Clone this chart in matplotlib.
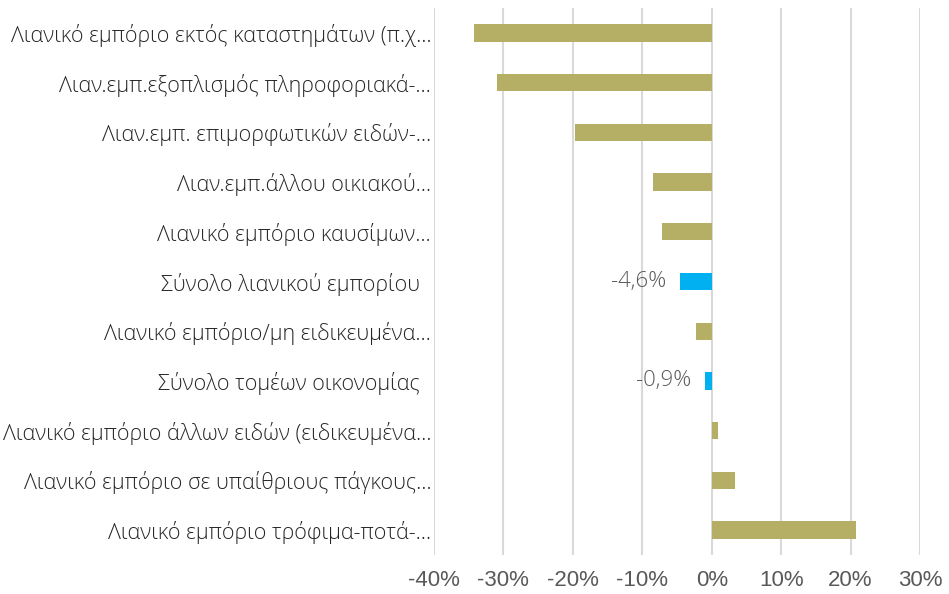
import matplotlib
matplotlib.use('Agg')
import matplotlib.pyplot as plt
from matplotlib.ticker import FuncFormatter

# κατηγορίες (από πάνω προς τα κάτω)
categories = [
    'Λιανικό εμπόριο εκτός καταστημάτων (π.χ…',
    'Λιαν.εμπ.εξοπλισμός πληροφοριακά-…',
    'Λιαν.εμπ. επιμορφωτικών ειδών-…',
    'Λιαν.εμπ.άλλου οικιακού…',
    'Λιανικό εμπόριο καυσίμων…',
    'Σύνολο λιανικού εμπορίου  ',
    'Λιανικό εμπόριο/μη ειδικευμένα…',
    'Σύνολο τομέων οικονομίας  ',
    'Λιανικό εμπόριο άλλων ειδών (ειδικευμένα…',
    'Λιανικό εμπόριο σε υπαίθριους πάγκους…',
    'Λιανικό εμπόριο τρόφιμα-ποτά-…',
]
values = [-34.2, -30.9, -19.7, -8.4, -7.1, -4.6, -2.3, -0.9, 0.9, 3.3, 20.8]
totals = ['Σύνολο λιανικού εμπορίου  ', 'Σύνολο τομέων οικονομίας  ']

olive = '#B5AE65'
blue = '#00B0F0'

fig = plt.figure(figsize=(9.49, 5.94), dpi=100)
ax = fig.add_axes([434 / 949, 1 - 555 / 594, (920 - 434) / 949, (555 - 8) / 594])

y = list(range(len(categories)))
colors = [blue if c in totals else olive for c in categories]
ax.barh(y, values, height=0.35, color=colors, zorder=3)

# ετικέτες τιμών μόνο για τα σύνολα
for yi, c, v in zip(y, categories, values):
    if c in totals:
        txt = '{:.1f}%'.format(v).replace('.', ',')
        ax.text(v - 2.0, yi, txt, ha='right', va='center', fontsize=16,
                color='#595959', family='Open Sans', fontweight='light')

ax.set_ylim(len(categories) - 0.5, -0.5)
ax.set_xlim(-40, 30)
ax.set_xticks(range(-40, 31, 10))
ax.xaxis.set_major_formatter(FuncFormatter(lambda v, p: '{:.0f}%'.format(v)))
ax.set_yticks(y)
ax.set_yticklabels(categories, family='Open Sans', fontsize=15.5,
                   fontweight='light', color='#262626')

ax.grid(axis='x', color='#D9D9D9', lw=1.5, zorder=0)
for s in ax.spines.values():
    s.set_visible(False)
ax.tick_params(length=0)
ax.tick_params(axis='y', pad=2)
ax.tick_params(axis='x', pad=11, labelsize=16, labelcolor='#595959')
for lab in ax.get_xticklabels():
    lab.set_family('Liberation Sans')

fig.savefig('out.png', dpi=100)
